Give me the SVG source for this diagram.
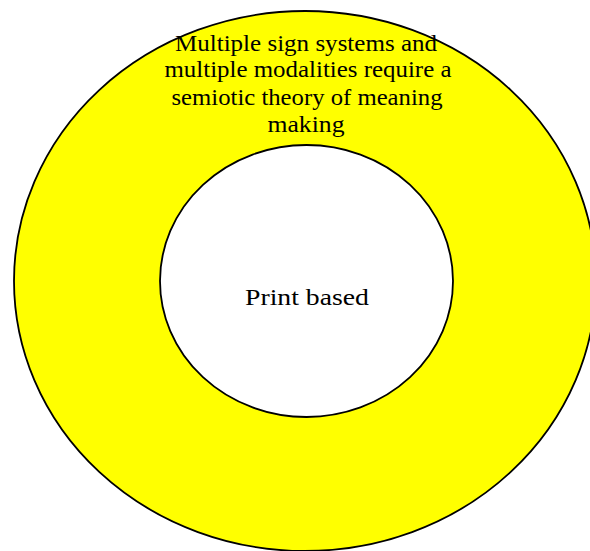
<svg xmlns="http://www.w3.org/2000/svg" width="590" height="551" viewBox="0 0 590 551">
<style>
.ring{fill:#ffff00;stroke:#000;stroke-width:1.8}
.core{fill:#fff;stroke:#000;stroke-width:1.8}
text{font-family:"Liberation Serif","DejaVu Serif",serif;font-size:22.5px;fill:#000;text-anchor:middle}
</style>
<rect width="590" height="551" fill="#fff"/>
<g id="outer">
<ellipse class="ring" cx="305" cy="281" rx="291" ry="270"/>
<text x="306" y="51" textLength="262" lengthAdjust="spacingAndGlyphs">Multiple sign systems and</text>
<text x="308" y="77" textLength="287" lengthAdjust="spacingAndGlyphs">multiple modalities require a</text>
<text x="307" y="105" textLength="271" lengthAdjust="spacingAndGlyphs">semiotic theory of meaning</text>
<text x="306" y="132" textLength="77" lengthAdjust="spacingAndGlyphs">making</text>
</g>
<g id="inner">
<ellipse class="core" cx="306.5" cy="281" rx="146.5" ry="136"/>
<text x="307" y="305" textLength="124" lengthAdjust="spacingAndGlyphs">Print based</text>
</g>
<g id="connectors"/>
</svg>
